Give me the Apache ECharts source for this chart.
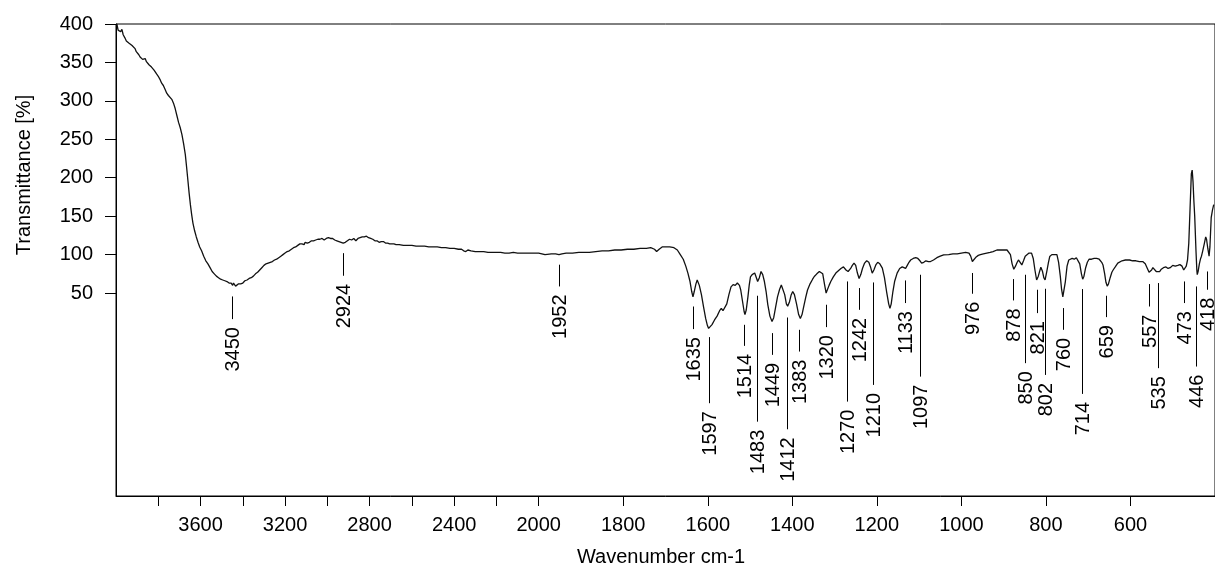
<!DOCTYPE html>
<html>
<head>
<meta charset="utf-8">
<script src="https://cdn.jsdelivr.net/npm/echarts@6/dist/echarts.min.js"></script>
<style>
html,body{margin:0;padding:0;background:#fff;}
#chart{width:1215px;height:567px;}
</style>
</head>
<body>
<div id="chart"></div>
<script>
// ---- Data ----
const wavenumbers = [
3996,3990,3984,3978,3972,3966,3958,3951,3945,3938,3930,3924,3917,3910,3904,3898,3892,3886,3880,3874,
3868,3862,3856,3850,3844,3838,3832,3826,3820,3814,3808,3800,3792,3784,3776,3768,3760,3752,3744,3736,
3728,3720,3712,3704,3696,3688,3680,3672,3666,3660,3654,3648,3642,3636,3628,3620,3612,3604,
3595,3585,3575,3565,3555,3545,3535,3525,3515,3505,3495,3485,3475,3465,3455,3448,3444,3440,3434,3428,
3420,3410,3400,3390,3380,3370,3360,3350,3340,3330,3320,3310,3300,3290,3280,3270,3260,3250,3240,3230,
3220,3210,3200,3190,3180,3170,3160,3150,3140,3130,3120,3110,3105,3095,3085,3075,3065,3055,3045,3035,
3025,3015,3005,2995,2985,2975,2965,2955,2945,2935,2925,2915,2905,2895,2885,2875,2865,2855,2845,2835,
2825,2815,2805,2795,2785,2775,2765,2755,2745,2735,2725,2715,2705,2695,2685,2675,
2660,2640,2620,2600,2580,2560,2540,2520,2500,2480,2460,2440,2420,2400,2380,2365,2355,2345,2335,2320,
2300,2280,2260,2240,2220,2200,2180,2160,2140,2120,2100,2080,2060,2040,2020,2000,
1985,1970,1960,1952,1945,1935,1920,1905,1895,1880,1865,1850,1835,1820,1805,1790,1775,1760,1745,1735,
1726,1721,1715,1708,1700,1690,1680,1672,1665,1658,1652,1647,1642,1638,1635,1632,1628,1625,1620,1615,
1610,1605,1601,1598,1594,1590,1584,1578,1572,1568,1564,1560,1555,1550,1545,1540,1535,1530,1525,1522,
1518,1514,1512,1509,1505,1502,1499,1495,1489,1485,1482,1478,1474,1470,1466,1462,1458,1453,1448,1444,
1440,1435,1430,1426,1422,1418,1414,1411,1407,1403,1399,1395,1390,1385,1381,1377,1372,1368,1364,1358,
1352,1348,1342,1336,1332,1328,1324,1320,1317,1313,1309,1303,1297,1291,1285,1279,1273,1268,1262,1258,
1254,1250,1246,1242,1238,1234,1229,1224,1219,1215,1211,1207,1202,1198,1193,1187,1182,1177,1172,1169,
1166,1162,1158,1152,1146,1140,1136,1132,1128,1124,1120,1114,1108,1103,1098,1094,1089,1084,1078,1073,
1066,1058,1050,1042,1030,1020,1010,1000,990,982,978,974,970,965,960,955,948,940,932,925,
916,908,900,892,888,884,880,876,872,868,865,861,857,853,849,845,840,834,830,826,
822,818,815,812,808,805,802,798,794,791,786,780,774,770,766,763,760,757,754,750,
746,743,738,733,728,724,720,716,713,710,706,702,698,692,686,680,674,668,665,661,
658,655,652,648,644,641,636,630,626,620,612,602,595,587,579,571,565,560,556,553,
550,547,543,539,535,531,527,522,516,511,506,500,494,488,483,478,474,471,468,465,
462,459,456,454,452,450,448,445,443,442,440,437,434,432,429,425,422,420,417,414,
412,409,406,403
];
const transmittance = [
400,392,394,390,393,386,382,378,377,375,374,372,370,368,364,362,360,357,358,354,
353,355,351,350,347,346,344,342,340,338,335,332,328,323,320,315,310,307,305,302,
297,290,281,272,265,256,244,230,214,197,180,165,152,141,131,123,116,110,
105,98,92,88,83,78,75,72,70,68,67,66,65,63,63,60,63,61,59,60,
62,62,63,66,67,69,70,72,75,77,80,83,86,88,89,90,91,93,94,96,
98,100,102,104,105,107,109,110,112,114,114,113,116,115,116,118,118,119,120,120,
121,119,121,122,121,121,119,118,117,116,115,116,118,120,119,121,118,121,122,123,
123,124,122,121,120,118,118,116,117,117,115,115,114,114,114,113,
113,112,112,112,111,111,111,110,110,110,109,109,108,108,107,107,105,104,106,105,
104,104,104,103,103,103,103,102,102,103,102,102,102,102,102,102,
100,101,101,100,101,102,102,103,103,103,104,105,105,106,106,107,107,108,108,109,
107,104,107,110,110,110,109,106,100,94,85,76,65,52,45,52,62,67,60,48,
32,17,8,4,5,9,15,20,27,30,27,26,36,48,58,61,60,63,60,54,
40,26,22,28,45,60,71,74,76,70,65,70,78,74,65,52,35,20,13,18,
30,45,55,60.5,58,48,36,33,38,47,52,48,36,22,17,22,35,45,54,62,
68,71.5,75,78,80,75,62,50,52,60,65,71,76,79,82,84,80,78,82,86,
89,86,76,69,74,82,89,92,90,84,76,80,87,90,88,82.5,70,52,36,30,
36,52,65,76,82,84,83,82,86,90,93,95,96,95,92,89,90,92,91,91,
93,96,98,99.7,100,101,101,102,103,102,98,91,93,97,99,100,101,102,103,104,
106,106,106,106,106,100,88,81,85,90,93,90,86.6,92,98,100,102,102,95,80,
67,72,78,83.6,78,70,67,78,90,97.5,100,100,100,90,72,55,45,47,65,85,
93,95,95,94,96,95,88,75,68,72,83,90,94,94,95,95,94,90,86.6,75,
64,59,62,70,77,80,84,89,91,92,93,93,92,92,91,91,88,82,77,76.6,
80,83,81,78,76,78,81,83,84,82,83,86,85,86,87,85,80,78,85,93,
115,160,205,210,195,170,150,105,80,74,78,88,95,98,105,115,123,120,108,98,
110,148,158,165
];
const peakWavenumbers = [3450,2924,1952,1635,1597,1514,1483,1449,1412,1383,1320,1270,1242,1210,1133,1097,976,878,850,821,802,760,714,659,557,535,473,446,418];
// peak marker lines: top and bottom ends, in transmittance units
const peakLineTop    = [45.6,101.9,86.9,32.5,-7.3,8.7,46.5,-2.1,18.2,2.2,34.8,65.1,56.5,63.8,66.4,73.8,76.1,68.2,73.8,54.3,55.6,30.5,55.2,46.5,61.7,63,65.1,58.6,78.1];
const peakLineBottom = [16.1,72.5,58.6,3.1,-93.3,-18.7,-117.3,-30.4,-127.2,-26.1,5.7,-91.2,28.2,-69.5,37,-58.7,49.1,40.4,-41.2,23.9,-56.5,2.2,-81.2,18.7,32.5,-47.7,37,-45.6,54.3];
const xLabelValues = [3600,3200,2800,2400,2000,1800,1600,1400,1200,1000,800,600];
const xTickValues = [3800,3600,3400,3200,3000,2800,2600,2400,2200,2000,1800,1600,1400,1200,1000,800,600];
const yTickValues = [50,100,150,200,250,300,350,400];

// ---- Axis transform: scale doubles below 2000 cm-1 ----
function toU(wn){ return wn >= 2000 ? (4000 - wn) / 2 : 1000 + (2000 - wn); }
function fromU(u){ return u <= 1000 ? 4000 - 2 * u : 2000 - (u - 1000); }

const FONT = '"Liberation Sans", Arial, Helvetica, sans-serif';
const spectrum = wavenumbers.map((w, i) => [toU(w), transmittance[i]]);
const peaks = peakWavenumbers.map((w, i) => [toU(w), peakLineTop[i], peakLineBottom[i]]);

const chart = echarts.init(document.getElementById('chart'), null, {renderer: 'canvas'});
chart.setOption({
  animation: false,
  backgroundColor: '#fff',
  grid: {left: 116, right: -4, top: 24, bottom: 71, show: true, borderColor: '#000', borderWidth: 1, containLabel: false},
  xAxis: {
    type: 'value', min: 0, max: 2600,
    axisLine: {show: true, onZero: false, lineStyle: {color: '#000', width: 1}},
    axisTick: {show: true, length: 10, lineStyle: {color: '#000'}, customValues: xTickValues.map(toU)},
    axisLabel: {show: true, margin: 19, fontSize: 20, fontFamily: FONT, color: '#000',
      customValues: xLabelValues.map(toU), formatter: v => String(Math.round(fromU(v)))},
    splitLine: {show: false}
  },
  yAxis: {
    type: 'value', min: -214, max: 400,
    axisLine: {show: true, onZero: false, lineStyle: {color: '#000', width: 1}},
    axisTick: {show: true, length: 11, lineStyle: {color: '#000'}, customValues: yTickValues},
    axisLabel: {show: true, margin: 23, fontSize: 20, fontFamily: FONT, color: '#000', customValues: yTickValues},
    splitLine: {show: false}
  },
  graphic: [
    {type: 'text', x: 24, y: 175, rotation: Math.PI / 2,
     style: {text: 'Transmittance [%]', font: '20px ' + FONT, fill: '#000', align: 'center', verticalAlign: 'middle'}},
    {type: 'text', x: 661, y: 557,
     style: {text: 'Wavenumber cm-1', font: '20px ' + FONT, fill: '#000', align: 'center', verticalAlign: 'middle'}}
  ],
  series: [
    {type: 'line', data: spectrum, showSymbol: false, symbol: 'none', smooth: false,
     lineStyle: {color: '#111', width: 1.3}, clip: true, silent: true},
    {type: 'custom', data: peaks, clip: false, silent: true,
     renderItem: function(params, api){
       const u = api.value(0);
       const p1 = api.coord([u, api.value(1)]);
       const p2 = api.coord([u, api.value(2)]);
       const x = Math.round(p1[0]) + 0.5;
       return {type: 'group', children: [
         {type: 'line', shape: {x1: x, y1: p1[1], x2: x, y2: p2[1]}, style: {stroke: '#000', lineWidth: 1}},
         {type: 'text', x: x + 1, y: p2[1] + 8, rotation: Math.PI / 2,
          style: {text: String(peakWavenumbers[params.dataIndex]), font: '20px ' + FONT, fill: '#000', align: 'right', verticalAlign: 'middle'}}
       ]};
     }}
  ]
});
</script>
</body>
</html>
